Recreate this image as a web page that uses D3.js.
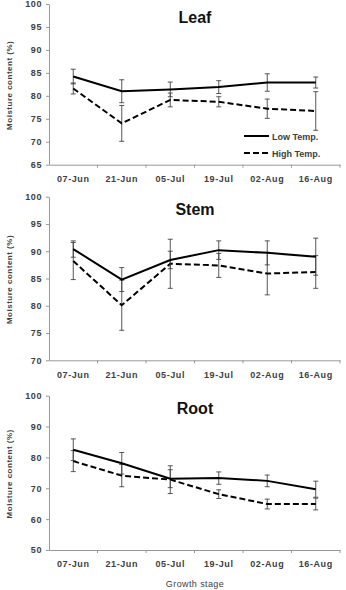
<!DOCTYPE html>
<html>
<head>
<meta charset="utf-8">
<script src="https://cdn.jsdelivr.net/npm/d3@7.9.0/dist/d3.min.js"></script>
<style>
  body { margin: 0; background: #fff; }
  svg { display: block; font-family: "Liberation Sans", Arial, sans-serif; }
  .tick text { fill: #404040; font-weight: bold; font-size: 9px; letter-spacing: 0.6px; }
  .domain, .tick line { stroke: #999; }
</style>
</head>
<body>
<div id="chart"></div>
<script>
const dates = ['07-Jun', '21-Jun', '05-Jul', '19-Jul', '02-Aug', '16-Aug'];

const leafLow = [84.2, 81.0, 81.4, 81.9, 82.9, 82.9];
const leafLowErr = [1.6, 2.5, 1.6, 1.4, 1.9, 1.2];
const leafHigh = [81.6, 74.0, 79.1, 78.7, 77.2, 76.7];
const leafHighErr = [1.2, 3.9, 1.5, 1.1, 2.1, 4.2];

const stemLow = [90.4, 84.8, 88.4, 90.2, 89.7, 89.0];
const stemLowErr = [1.5, 2.2, 1.6, 1.7, 2.2, 3.4];
const stemHigh = [88.2, 80.1, 87.7, 87.4, 85.9, 86.2];
const stemHighErr = [3.4, 4.6, 4.5, 2.2, 3.9, 3.0];

const rootLow = [82.5, 78.1, 73.1, 73.3, 72.4, 69.7];
const rootLowErr = [3.5, 3.5, 2.9, 2.0, 1.9, 2.6];
const rootHigh = [78.8, 74.1, 72.8, 68.1, 64.9, 64.9];
const rootHighErr = [3.4, 3.6, 4.5, 1.4, 1.6, 1.9];

const leafTicks = [65, 70, 75, 80, 85, 90, 95, 100];
const stemTicks = [70, 75, 80, 85, 90, 95, 100];
const rootTicks = [50, 60, 70, 80, 90, 100];

const seriesNames = ['Low Temp.', 'High Temp.'];

const width = 346;
const height = 590;

const panels = [
    { title: 'Leaf', low: leafLow, lowErr: leafLowErr, high: leafHigh, highErr: leafHighErr,
      ticks: leafTicks, top: 4, bottom: 164.7, legend: true },
    { title: 'Stem', low: stemLow, lowErr: stemLowErr, high: stemHigh, highErr: stemHighErr,
      ticks: stemTicks, top: 196.7, bottom: 360.3, legend: false },
    { title: 'Root', low: rootLow, lowErr: rootLowErr, high: rootHigh, highErr: rootHighErr,
      ticks: rootTicks, top: 395.7, bottom: 550, legend: false },
];

const svg = d3.select('#chart')
    .append('svg')
    .attr('width', width)
    .attr('height', height);

const xScale = d3.scaleBand()
    .domain(dates)
    .range([49, 340]);

panels.forEach((p) => {
    const g = svg.append('g');

    const yScale = d3.scaleLinear()
        .domain(d3.extent(p.ticks))
        .range([p.bottom, p.top]);

    // axes
    g.append('g')
        .attr('transform', `translate(49, 0)`)
        .call(d3.axisLeft(yScale).tickValues(p.ticks).tickSize(3).tickSizeOuter(0).tickPadding(4));

    const xAxis = g.append('g')
        .attr('transform', `translate(0, ${p.bottom})`)
        .call(d3.axisBottom(xScale).tickSize(0).tickSizeOuter(0).tickPadding(11));

    // tick marks between categories
    xAxis.selectAll('.sep')
        .data(dates)
        .join('line')
        .attr('class', 'sep')
        .attr('x1', (d) => xScale(d) + xScale.bandwidth())
        .attr('x2', (d) => xScale(d) + xScale.bandwidth())
        .attr('y1', 0)
        .attr('y2', 3)
        .attr('stroke', '#999');

    // title
    g.append('text')
        .attr('x', 195)
        .attr('y', Math.max(p.top, 1.3) + 18.5)
        .attr('text-anchor', 'middle')
        .style('font-size', '16px')
        .style('font-weight', 'bold')
        .style('fill', '#111')
        .text(p.title);

    // y label
    g.append('text')
        .attr('transform', `translate(12, ${(p.top + p.bottom) / 2 + 1}) rotate(-90)`)
        .attr('text-anchor', 'middle')
        .style('font-size', '8px')
        .style('font-weight', 'bold')
        .style('letter-spacing', '0.5px')
        .style('fill', '#404040')
        .text('Moisture content  (%)');

    const cx = (i) => xScale(dates[i]) + xScale.bandwidth() / 2;

    const series = [
        { values: p.high, err: p.highErr, dash: '6,3' },
        { values: p.low, err: p.lowErr, dash: null },
    ];

    series.forEach((s) => {
        // error bars
        const eb = g.append('g');
        s.values.forEach((v, i) => {
            const x = cx(i);
            const y1 = yScale(v - s.err[i]);
            const y2 = yScale(v + s.err[i]);
            eb.append('line').attr('x1', x).attr('x2', x).attr('y1', y1).attr('y2', y2);
            eb.append('line').attr('x1', x - 2.5).attr('x2', x + 2.5).attr('y1', y1).attr('y2', y1);
            eb.append('line').attr('x1', x - 2.5).attr('x2', x + 2.5).attr('y1', y2).attr('y2', y2);
        });
        eb.selectAll('line').attr('stroke', '#444').attr('stroke-width', 0.9);

        const line = d3.line()
            .x((d, i) => cx(i))
            .y((d) => yScale(d));

        g.append('path')
            .datum(s.values)
            .attr('d', line)
            .attr('fill', 'none')
            .attr('stroke', '#000')
            .attr('stroke-width', 2)
            .attr('stroke-dasharray', s.dash);
    });

    if (p.legend) {
        const lg = g.append('g');
        seriesNames.forEach((name, i) => {
            const y = 136 + i * 17;
            lg.append('line')
                .attr('x1', 244).attr('x2', 269)
                .attr('y1', y).attr('y2', y)
                .attr('stroke', '#000')
                .attr('stroke-width', 2)
                .attr('stroke-dasharray', i === 1 ? '6,3' : null);
            lg.append('text')
                .attr('x', 272)
                .attr('y', y + 3.5)
                .style('font-size', '9px')
                .style('font-weight', 'bold')
                .style('fill', '#404040')
                .text(name);
        });
    }

    if (p.title === 'Root') {
        g.append('text')
            .attr('x', 195)
            .attr('y', 587)
            .attr('text-anchor', 'middle')
            .style('font-size', '9px')
            .style('letter-spacing', '0.4px')
            .style('fill', '#404040')
            .text('Growth  stage');
    }
});
</script>
</body>
</html>
